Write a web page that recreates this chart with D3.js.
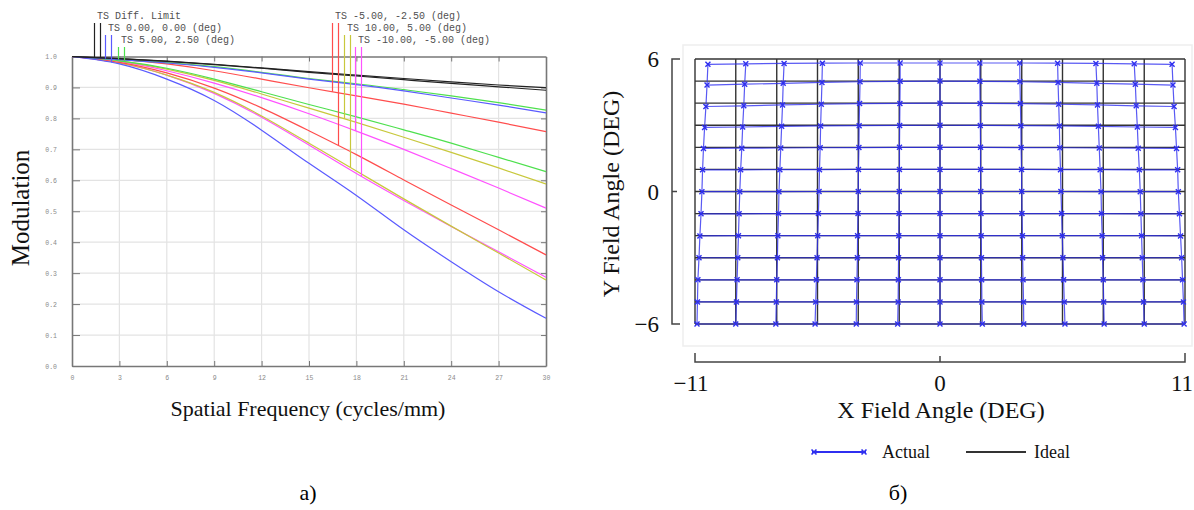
<!DOCTYPE html>
<html>
<head>
<meta charset="utf-8">
<script src="https://cdnjs.cloudflare.com/ajax/libs/d3/7.8.5/d3.min.js"></script>
<style>
  body { margin: 0; background: #fff; }
  svg { display: block; }
</style>
</head>
<body>
<svg id="chart" width="1194" height="510"></svg>
<script>
// ---------- panel a) : MTF curves ----------
var FREQ = [0, 3, 6, 9, 12, 15, 18, 21, 24, 27, 30];

var MTF_DIFF_T    = [1, 0.993, 0.985, 0.975, 0.963, 0.951, 0.940, 0.929, 0.918, 0.908, 0.899];
var MTF_DIFF_S    = [1, 0.993, 0.984, 0.974, 0.962, 0.949, 0.937, 0.925, 0.913, 0.902, 0.891];
var MTF_F0_T      = [1, 0.990, 0.979, 0.965, 0.947, 0.927, 0.909, 0.889, 0.866, 0.843, 0.818];
var MTF_F0_S      = [1, 0.976, 0.927, 0.858, 0.762, 0.655, 0.551, 0.440, 0.337, 0.240, 0.154];
var MTF_F5_T      = [1, 0.990, 0.980, 0.967, 0.949, 0.929, 0.912, 0.893, 0.873, 0.851, 0.827];
var MTF_F5_S      = [1, 0.986, 0.962, 0.927, 0.886, 0.845, 0.805, 0.763, 0.720, 0.674, 0.628];
var MTF_FM5_T     = [1, 0.991, 0.976, 0.954, 0.927, 0.899, 0.873, 0.846, 0.817, 0.788, 0.757];
var MTF_FM5_S     = [1, 0.981, 0.947, 0.898, 0.834, 0.760, 0.683, 0.601, 0.520, 0.440, 0.359];
var MTF_F10_T     = [1, 0.986, 0.959, 0.923, 0.879, 0.833, 0.787, 0.739, 0.690, 0.640, 0.588];
var MTF_F10_S     = [1, 0.979, 0.940, 0.884, 0.808, 0.720, 0.630, 0.540, 0.452, 0.365, 0.278];
var MTF_FM10_T    = [1, 0.984, 0.954, 0.914, 0.867, 0.815, 0.759, 0.700, 0.638, 0.575, 0.510];
var MTF_FM10_S    = [1, 0.979, 0.940, 0.881, 0.804, 0.714, 0.622, 0.535, 0.451, 0.369, 0.287];

var MTF_LABELS = ['TS Diff. Limit', 'TS 0.00, 0.00 (deg)', 'TS 5.00, 2.50 (deg)',
                  'TS -5.00, -2.50 (deg)', 'TS 10.00, 5.00 (deg)', 'TS -10.00, -5.00 (deg)'];
var MTF_TICKS_X = [0, 3, 6, 9, 12, 15, 18, 21, 24, 27, 30];
var MTF_TICKS_Y = [0, 0.1, 0.2, 0.3, 0.4, 0.5, 0.6, 0.7, 0.8, 0.9, 1.0];

// ---------- panel б) : grid distortion ----------
var IDEAL_X = [-11, -9.17, -7.33, -5.5, -3.67, -1.83, 0, 1.83, 3.67, 5.5, 7.33, 9.17, 11];
var IDEAL_Y = [6, 5, 4, 3, 2, 1, 0, -1, -2, -3, -4, -5, -6];

// actual grid points, one array per column, rows from top (y = 6) to bottom (y = -6)
var ACTUAL_X = [
  [-10.42, -10.46, -10.51, -10.57, -10.62, -10.66, -10.69, -10.73, -10.78, -10.82, -10.87, -10.89, -10.91],
  [-8.72, -8.77, -8.81, -8.86, -8.90, -8.95, -8.99, -9.02, -9.05, -9.08, -9.11, -9.14, -9.17],
  [-7.00, -7.04, -7.07, -7.11, -7.15, -7.19, -7.23, -7.25, -7.28, -7.30, -7.33, -7.35, -7.37],
  [-5.28, -5.30, -5.33, -5.36, -5.38, -5.41, -5.43, -5.46, -5.49, -5.52, -5.55, -5.58, -5.61],
  [-3.58, -3.59, -3.61, -3.63, -3.64, -3.66, -3.67, -3.68, -3.70, -3.71, -3.73, -3.75, -3.76],
  [-1.79, -1.79, -1.80, -1.81, -1.82, -1.82, -1.83, -1.84, -1.85, -1.86, -1.87, -1.88, -1.90],
  [0, 0, 0, 0, 0, 0, 0, 0, 0, 0, 0, 0, 0],
  [1.79, 1.79, 1.80, 1.81, 1.82, 1.82, 1.83, 1.84, 1.85, 1.86, 1.87, 1.88, 1.90],
  [3.58, 3.59, 3.61, 3.63, 3.64, 3.66, 3.67, 3.68, 3.70, 3.71, 3.73, 3.75, 3.76],
  [5.28, 5.30, 5.33, 5.36, 5.38, 5.41, 5.43, 5.46, 5.49, 5.52, 5.55, 5.58, 5.61],
  [7.00, 7.04, 7.07, 7.11, 7.15, 7.19, 7.23, 7.25, 7.28, 7.30, 7.33, 7.35, 7.37],
  [8.72, 8.77, 8.81, 8.86, 8.90, 8.95, 8.99, 9.02, 9.05, 9.08, 9.11, 9.14, 9.17],
  [10.42, 10.46, 10.51, 10.57, 10.62, 10.67, 10.70, 10.75, 10.80, 10.85, 10.89, 10.93, 10.96]
];
var ACTUAL_Y = [
  [5.76, 4.82, 3.85, 2.90, 1.95, 0.98, -0.01, -1.01, -2.01, -3, -4, -5, -6],
  [5.78, 4.86, 3.88, 2.92, 1.96, 0.98, -0.01, -1.01, -2, -3, -4, -5, -6],
  [5.80, 4.90, 3.92, 2.95, 1.97, 0.99, -0.01, -1, -2, -3, -4, -5, -6],
  [5.81, 4.94, 3.95, 2.97, 1.98, 0.99, 0, -1, -2, -3, -4, -5, -6],
  [5.82, 4.97, 3.98, 2.98, 1.99, 1, 0, -1, -2, -3, -4, -5, -6],
  [5.82, 4.99, 3.99, 2.99, 2, 1, 0, -1, -2, -3, -4, -5, -6],
  [5.82, 5, 4, 3, 2, 1, 0, -1, -2, -3, -4, -5, -6],
  [5.82, 4.99, 3.99, 2.99, 2, 1, 0, -1, -2, -3, -4, -5, -6],
  [5.82, 4.97, 3.98, 2.98, 1.99, 1, 0, -1, -2, -3, -4, -5, -6],
  [5.81, 4.94, 3.95, 2.97, 1.98, 0.99, 0, -1, -2, -3, -4, -5, -6],
  [5.80, 4.90, 3.92, 2.95, 1.97, 0.99, -0.01, -1, -2, -3, -4, -5, -6],
  [5.78, 4.86, 3.88, 2.92, 1.96, 0.98, -0.01, -1.01, -2, -3, -4, -5, -6],
  [5.76, 4.82, 3.85, 2.90, 1.95, 0.98, -0.01, -1.01, -2.01, -3, -4, -5, -6]
];
var GRID_TICKS_X = [-11, 0, 11];
var GRID_TICKS_Y = [-6, 0, 6];
var GRID_LEGEND = ['Actual', 'Ideal'];
var CAPTIONS = ['а)', 'б)'];

// Colors
var COLORS = {
  BLACK:   '#222222',
  BLUE:    '#5a5aff',
  GREEN:   '#4ee04e',
  RED:     '#ff4d4d',
  YELLOW:  '#c8c83c',
  MAGENTA: '#ff52ff',
  GRID:    '#e3e3e3',
  AXIS:    '#777777',
  TICK_TXT:'#8a8a8a',
  LEG_TXT: '#505050',
  ACTUAL:  '#2f2ff0',
  IDEAL:   '#333333'
};

var SERIES = [
  {label: MTF_LABELS[0], t: MTF_DIFF_T, s: MTF_DIFF_S, color: COLORS.BLACK},
  {label: MTF_LABELS[1], t: MTF_F0_T,   s: MTF_F0_S,   color: COLORS.BLUE},
  {label: MTF_LABELS[2], t: MTF_F5_T,   s: MTF_F5_S,   color: COLORS.GREEN},
  {label: MTF_LABELS[3], t: MTF_FM5_T,  s: MTF_FM5_S,  color: COLORS.RED},
  {label: MTF_LABELS[4], t: MTF_F10_T,  s: MTF_F10_S,  color: COLORS.YELLOW},
  {label: MTF_LABELS[5], t: MTF_FM10_T, s: MTF_FM10_S, color: COLORS.MAGENTA}
];
// legend label anchors (px): text x, baseline y
var LEGEND_POS = [[97, 19], [108, 31], [121, 43], [335, 19], [347, 31], [358, 43]];

var svg = d3.select('#chart');
var SERIF = '"Liberation Serif", "Times New Roman", serif';
var MONO = '"Liberation Mono", "DejaVu Sans Mono", monospace';

// ================= Panel a =================
var xM = d3.scaleLinear().domain([0, 30]).range([72, 546]);
var yM = d3.scaleLinear().domain([0, 1]).range([366, 56.5]);

var gA = svg.append('g');

// light grid
gA.selectAll('.vgrid')
  .data(MTF_TICKS_X.slice(1, -1))
  .enter().append('line')
  .attr('x1', function(d) { return xM(d); })
  .attr('x2', function(d) { return xM(d); })
  .attr('y1', yM(0)).attr('y2', yM(1))
  .attr('stroke', COLORS.GRID).attr('stroke-width', 1.2);
gA.selectAll('.hgrid')
  .data(MTF_TICKS_Y.slice(1, -1))
  .enter().append('line')
  .attr('x1', xM(0)).attr('x2', xM(30))
  .attr('y1', function(d) { return yM(d); })
  .attr('y2', function(d) { return yM(d); })
  .attr('stroke', COLORS.GRID).attr('stroke-width', 1.2);

// axes with inward ticks
function styleAxis(g) {
  g.selectAll('path, line').attr('stroke', COLORS.AXIS);
  g.select('.domain').attr('stroke-width', 1.6);
  g.selectAll('text')
    .attr('fill', COLORS.TICK_TXT)
    .attr('font-family', MONO)
    .attr('font-size', '6.5px');
}

gA.append('g')
  .attr('transform', 'translate(' + xM(0) + ',0)')
  .call(d3.axisLeft(yM).tickValues(MTF_TICKS_Y).tickSizeInner(-8).tickSizeOuter(0)
    .tickPadding(15).tickFormat(d3.format('.1f')))
  .call(styleAxis);

gA.append('g')
  .attr('transform', 'translate(0,' + yM(0) + ')')
  .call(d3.axisBottom(xM).tickValues(MTF_TICKS_X).tickSizeInner(-5).tickSizeOuter(0)
    .tickPadding(9).tickFormat(d3.format('d')))
  .call(styleAxis);

gA.append('g')
  .attr('transform', 'translate(0,' + yM(1) + ')')
  .call(d3.axisTop(xM).tickValues(MTF_TICKS_X.slice(1, -1)).tickSizeInner(-5).tickSizeOuter(0)
    .tickFormat(''))
  .call(styleAxis);

gA.append('g')
  .attr('transform', 'translate(' + xM(30) + ',0)')
  .call(d3.axisRight(yM).tickValues(MTF_TICKS_Y.slice(1, -1)).tickSizeInner(-5).tickSizeOuter(0)
    .tickFormat(''))
  .call(styleAxis);

// curves
var mtfLine = d3.line()
  .x(function(d) { return xM(d[0]); })
  .y(function(d) { return yM(d[1]); })
  .curve(d3.curveNatural);

function toPts(vals) {
  return FREQ.map(function(f, i) { return [f, vals[i]]; });
}

// y of a drawn path at a given pixel x (binary search along path)
function yOnPath(node, px) {
  var lo = 0, hi = node.getTotalLength();
  for (var i = 0; i < 30; i++) {
    var mid = (lo + hi) / 2;
    if (node.getPointAtLength(mid).x < px) lo = mid; else hi = mid;
  }
  return node.getPointAtLength(lo).y;
}

var drawOrder = [5, 4, 3, 2, 1, 0];
var paths = {};
drawOrder.forEach(function(k) {
  var s = SERIES[k];
  paths[k] = {
    t: gA.append('path').datum(toPts(s.t))
      .attr('d', mtfLine).attr('fill', 'none')
      .attr('stroke', s.color).attr('stroke-width', 1.2).node(),
    s: gA.append('path').datum(toPts(s.s))
      .attr('d', mtfLine).attr('fill', 'none')
      .attr('stroke', s.color).attr('stroke-width', 1.2).node()
  };
});

// legend labels with drop lines to the curves
SERIES.forEach(function(s, k) {
  var pos = LEGEND_POS[k];
  gA.append('text')
    .text(s.label)
    .attr('x', pos[0]).attr('y', pos[1])
    .attr('font-family', MONO)
    .attr('font-size', '10px')
    .attr('fill', COLORS.LEG_TXT);
  [[pos[0] - 2.5, paths[k].t], [pos[0] + 3.5, paths[k].s]].forEach(function(p) {
    gA.append('line')
      .attr('x1', p[0]).attr('x2', p[0])
      .attr('y1', pos[1] + 4)
      .attr('y2', yOnPath(p[1], p[0]))
      .attr('stroke', s.color).attr('stroke-width', 1.2);
  });
});

// axis titles
gA.append('text')
  .text('Modulation')
  .attr('transform', 'translate(29,208) rotate(-90)')
  .attr('text-anchor', 'middle')
  .attr('font-family', SERIF)
  .attr('font-size', '25px')
  .attr('fill', '#111');

gA.append('text')
  .text('Spatial Frequency (cycles/mm)')
  .attr('x', 308).attr('y', 416)
  .attr('text-anchor', 'middle')
  .attr('font-family', SERIF)
  .attr('font-size', '22px')
  .attr('fill', '#111');

// ================= Panel б =================
var xG = d3.scaleLinear().domain([-11, 11]).range([695, 1185]);
var yG = d3.scaleLinear().domain([-6, 6]).range([324, 59]);

var gB = svg.append('g');

// faint frame
gB.append('rect')
  .attr('x', 683).attr('y', 45).attr('width', 509).attr('height', 301)
  .attr('fill', 'none').attr('stroke', '#eeeeee').attr('stroke-width', 1.5);

// ideal grid
var gridLine = d3.line()
  .x(function(d) { return xG(d[0]); })
  .y(function(d) { return yG(d[1]); });

IDEAL_Y.forEach(function(v) {
  gB.append('path').datum([[IDEAL_X[0], v], [IDEAL_X[IDEAL_X.length - 1], v]])
    .attr('d', gridLine).attr('fill', 'none')
    .attr('stroke', COLORS.IDEAL).attr('stroke-width', 1.4);
});
IDEAL_X.forEach(function(v) {
  gB.append('path').datum([[v, IDEAL_Y[0]], [v, IDEAL_Y[IDEAL_Y.length - 1]]])
    .attr('d', gridLine).attr('fill', 'none')
    .attr('stroke', COLORS.IDEAL).attr('stroke-width', 1.4);
});

// actual grid: columns, rows, markers
var cols = ACTUAL_X.map(function(xs, c) {
  return xs.map(function(x, r) { return [x, ACTUAL_Y[c][r]]; });
});
var rows = IDEAL_Y.map(function(_, r) {
  return cols.map(function(col) { return col[r]; });
});

cols.concat(rows).forEach(function(pts) {
  gB.append('path').datum(pts)
    .attr('d', gridLine).attr('fill', 'none')
    .attr('stroke', COLORS.ACTUAL).attr('stroke-opacity', 0.8)
    .attr('stroke-width', 1.2);
});

var marker = d3.symbol().type(d3.symbolTimes).size(18);
var allPts = [].concat.apply([], cols);
gB.selectAll('.mk')
  .data(allPts)
  .enter().append('path')
  .attr('d', marker)
  .attr('transform', function(d) { return 'translate(' + xG(d[0]) + ',' + yG(d[1]) + ')'; })
  .attr('fill', 'none')
  .attr('stroke', COLORS.ACTUAL)
  .attr('stroke-width', 1.4);

// y bracket axis
var bx = 672;
gB.append('path')
  .attr('d', 'M' + (bx + 8) + ',' + yG(6) + 'H' + bx + 'V' + yG(-6) + 'H' + (bx + 8) +
             'M' + bx + ',' + yG(0) + 'H' + (bx + 5))
  .attr('fill', 'none').attr('stroke', '#444').attr('stroke-width', 1.5);

gB.selectAll('.ylab')
  .data(GRID_TICKS_Y)
  .enter().append('text')
  .text(function(d) { return d < 0 ? '\u2212' + Math.abs(d) : d; })
  .attr('x', 659)
  .attr('y', function(d) { return yG(d) + 8; })
  .attr('text-anchor', 'end')
  .attr('font-family', SERIF)
  .attr('font-size', '23px')
  .attr('fill', '#111');

// x bracket axis
var by = 362;
gB.append('path')
  .attr('d', 'M' + xG(-11) + ',' + (by - 9) + 'V' + by + 'H' + xG(11) + 'V' + (by - 9) +
             'M' + xG(0) + ',' + by + 'V' + (by - 6))
  .attr('fill', 'none').attr('stroke', '#444').attr('stroke-width', 1.5);

gB.selectAll('.xlab')
  .data(GRID_TICKS_X)
  .enter().append('text')
  .text(function(d) { return d < 0 ? '\u2212' + Math.abs(d) : d; })
  .attr('x', function(d) { return xG(d) + (d < 0 ? -4 : d > 0 ? -3 : 0); })
  .attr('y', 391)
  .attr('text-anchor', 'middle')
  .attr('font-family', SERIF)
  .attr('font-size', '23px')
  .attr('fill', '#111');

gB.append('text')
  .text('X Field Angle (DEG)')
  .attr('x', 941).attr('y', 418)
  .attr('text-anchor', 'middle')
  .attr('font-family', SERIF)
  .attr('font-size', '24px')
  .attr('fill', '#111');

gB.append('text')
  .text('Y Field Angle (DEG)')
  .attr('transform', 'translate(619,194) rotate(-90)')
  .attr('text-anchor', 'middle')
  .attr('font-family', SERIF)
  .attr('font-size', '24px')
  .attr('fill', '#111');

// legend
var ly = 452;
gB.append('line')
  .attr('x1', 812).attr('x2', 866).attr('y1', ly).attr('y2', ly)
  .attr('stroke', COLORS.ACTUAL).attr('stroke-width', 1.8);
[814, 864].forEach(function(x) {
  gB.append('path').attr('d', marker)
    .attr('transform', 'translate(' + x + ',' + ly + ')')
    .attr('fill', 'none').attr('stroke', COLORS.ACTUAL).attr('stroke-width', 1.6);
});
gB.append('text').text(GRID_LEGEND[0])
  .attr('x', 882).attr('y', ly + 6)
  .attr('font-family', SERIF).attr('font-size', '18px').attr('fill', '#111');
gB.append('line')
  .attr('x1', 966).attr('x2', 1026).attr('y1', ly).attr('y2', ly)
  .attr('stroke', COLORS.IDEAL).attr('stroke-width', 1.8);
gB.append('text').text(GRID_LEGEND[1])
  .attr('x', 1034).attr('y', ly + 6)
  .attr('font-family', SERIF).attr('font-size', '18px').attr('fill', '#111');

// captions
svg.selectAll('.cap')
  .data(CAPTIONS)
  .enter().append('text')
  .text(function(d) { return d; })
  .attr('x', function(d, i) { return i === 0 ? 308 : 898; })
  .attr('y', 500)
  .attr('text-anchor', 'middle')
  .attr('font-family', SERIF)
  .attr('font-size', '22px')
  .attr('fill', '#000');
</script>
</body>
</html>
